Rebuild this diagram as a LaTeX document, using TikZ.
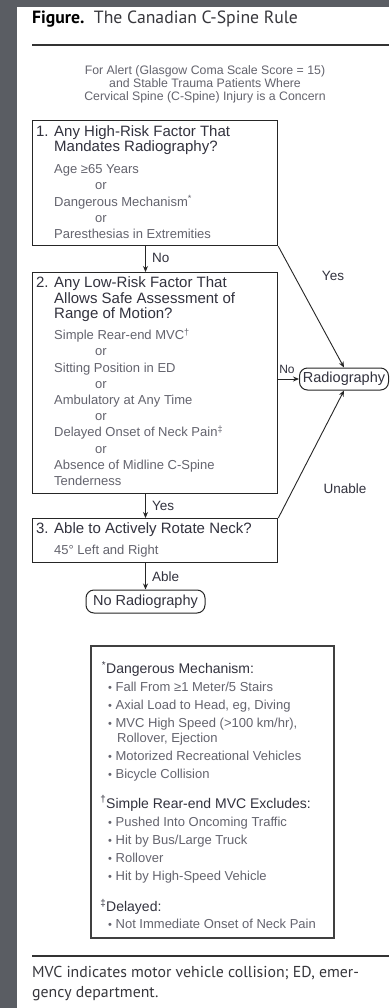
\documentclass[tikz,border=0pt]{standalone}
\usepackage{fontspec}
\setmainfont{Liberation Sans}
\newfontfamily\capfont{PT Sans}
\usetikzlibrary{arrows.meta}
\definecolor{strip}{RGB}{90,93,99}
\definecolor{headgray}{RGB}{50,50,62}
\definecolor{itemgray}{RGB}{100,100,110}
\definecolor{capgray}{RGB}{55,55,60}
\newcommand{\hdfont}{\fontsize{15}{16}\selectfont\color{headgray}}
\newcommand{\fnhd}{\fontsize{14}{16}\selectfont\color{headgray}}
\newcommand{\fnitem}{\hspace*{2pt}{\fontsize{11}{11}\selectfont\textbullet}\ }
\newcommand{\orline}{\hspace*{41pt}or}

\begin{document}
\begin{tikzpicture}[x=1pt, y=-1pt,
    >={Stealth[length=6pt, width=5pt]},
    qbox/.style={
      draw=black!85,
      line width=1.3pt,
      minimum width=245pt,
      anchor=north west,
      inner sep=0pt
    },
    outcome/.style={
      draw=black!85,
      line width=1pt,
      rounded corners=8pt,
      minimum height=22pt,
      inner xsep=2pt,
      text=headgray,
      font=\fontsize{14.5}{16}\selectfont
    },
    txt/.style={
      align=left,
      anchor=north west,
      inner sep=0pt,
      text=itemgray,
      font=\fontsize{13}{16.2}\selectfont
    },
    lbl/.style={
      inner sep=0pt,
      text=headgray,
      font=\fontsize{13.5}{15}\selectfont
    },
    flow/.style={
      ->,
      line width=0.9pt,
      black!85
    },
  ]

  \fill[white] (0,0) rectangle (389,1008);
  \fill[strip] (0,0) rectangle (17,1008);
  \fill[strip] (0,0) rectangle (389,7.5);
  \useasboundingbox (0,0) rectangle (389,1008);

  % heading
  \node[anchor=base west, inner sep=0pt, font=\capfont\fontsize{17.7}{19}\selectfont]
    (title) at (32,24) {\textbf{Figure.}\ \ {\color{capgray}The Canadian C-Spine Rule}};
  \draw[line width=1.2pt, black!80] (32,45) -- (389,45);
  \node[align=center, anchor=north, inner sep=0pt, text=itemgray,
    font=\fontsize{12.3}{13.2}\selectfont] (intro) at (205,65)
    {For Alert (Glasgow Coma Scale Score = 15)\\
     and Stable Trauma Patients Where\\
     Cervical Spine (C-Spine) Injury is a Concern};

  % decision boxes
  \node[qbox, minimum height=125pt] (b1) at (32,120) {};
  \node[qbox, minimum height=221pt] (b2) at (32,272) {};
  \node[qbox, minimum height=44pt] (b3) at (32,518) {};

  \node[txt] (t1) at (54,125.5) {%
    {\hdfont\llap{1. }Any High-Risk Factor That}\\[-1.3pt]
    {\hdfont Mandates Radiography?}\\[6pt]
    Age ≥65 Years\\
    \orline\\
    Dangerous Mechanism\textsuperscript{*}\\
    \orline\\
    Paresthesias in Extremities};

  \node[txt] (t2) at (54,276.6) {%
    {\hdfont\llap{2. }Any Low-Risk Factor That}\\[-0.8pt]
    {\hdfont Allows Safe Assessment of}\\[-0.8pt]
    {\hdfont Range of Motion?}\\[5pt]
    Simple Rear-end MVC\textsuperscript{†}\\
    \orline\\
    Sitting Position in ED\\
    \orline\\
    Ambulatory at Any Time\\
    \orline\\
    Delayed Onset of Neck Pain\textsuperscript{‡}\\
    \orline\\
    Absence of Midline C-Spine\\
    Tenderness};

  \node[txt] (t3) at (54,522.6) {%
    {\hdfont\llap{3. }Able to Actively Rotate Neck?}\\[5pt]
    45° Left and Right};

  % outcomes
  \node[outcome, minimum width=89pt] (rad) at (344,379) {Radiography};
  \node[outcome, minimum width=119pt, minimum height=23pt] (norad) at (145.5,601.5) {No Radiography};

  \draw[flow] (b1.south -| norad) -- (b2.north -| norad);
  \draw[flow] (b2.south -| norad) -- (b3.north -| norad);
  \draw[flow] (b3.south -| norad) -- (norad.north);
  \draw[flow] (b2.east |- rad) -- (rad.west);
  \draw[flow] (b1.south east) -- (rad.north);
  \draw[flow] (b3.north east) -- (rad.south);

  \node[lbl, anchor=west] (no1) at (152,258) {No};
  \node[lbl, anchor=west] (yes2) at (152,506) {Yes};
  \node[lbl, anchor=west] (able) at (152,577) {Able};
  \node[lbl] (yes1) at (333,276) {Yes};
  \node[lbl] (unable) at (345,489) {Unable};
  \node[lbl, font=\fontsize{12}{13}\selectfont] (no2) at (287,369) {No};

  % footnotes
  \node[draw=black!75, line width=1.5pt, minimum width=243pt, minimum height=292pt,
    anchor=north west, inner sep=0pt] (notes) at (90,645) {};
  \node[txt, font=\fontsize{13}{18}\selectfont] (fn) at (106,663) {%
    {\fnhd\llap{\smash{\textsuperscript{*}}}Dangerous Mechanism:}\\[-0.3pt]
    \fnitem Fall From ≥1 Meter/5 Stairs\\
    \fnitem Axial Load to Head, eg, Diving\\
    \fnitem MVC High Speed (>100 km/hr),\\[-3pt]
    \hspace*{11pt}Rollover, Ejection\\
    \fnitem Motorized Recreational Vehicles\\
    \fnitem Bicycle Collision\\[12pt]
    {\fnhd\llap{\smash{\textsuperscript{†}}}Simple Rear-end MVC Excludes:}\\[0.7pt]
    \fnitem Pushed Into Oncoming Traffic\\
    \fnitem Hit by Bus/Large Truck\\
    \fnitem Rollover\\
    \fnitem Hit by High-Speed Vehicle\\[13pt]
    {\fnhd\llap{\smash{\textsuperscript{‡}}}Delayed:}\\[-1.3pt]
    \fnitem Not Immediate Onset of Neck Pain};

  % caption
  \draw[line width=1.2pt, black!80] (32,956) -- (389,956);
  \node[txt, text=capgray, font=\capfont\fontsize{15.8}{20}\selectfont] (caption) at (32,966.5)
    {MVC indicates motor vehicle collision; ED, emer-\\gency department.};
\end{tikzpicture}
\end{document}
